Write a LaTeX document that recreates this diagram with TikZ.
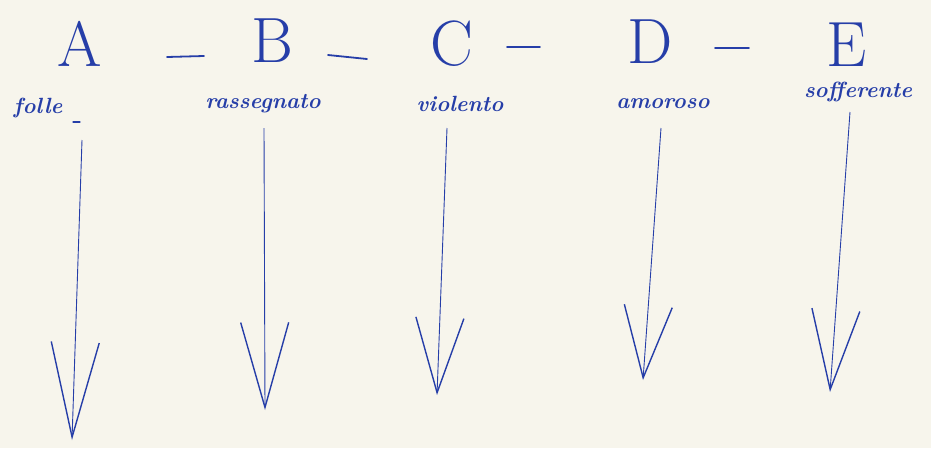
\documentclass[tikz,border=0pt]{standalone}
\usetikzlibrary{arrows.meta}
\definecolor{paper}{RGB}{247,245,236}
\definecolor{ink}{RGB}{38,62,168}
\begin{document}
\begin{tikzpicture}[x=1pt,y=-1pt,
  letter/.style={font=\fontsize{64}{64}\selectfont, text=ink, inner sep=0pt},
  word/.style={font=\bfseries\itshape\fontsize{22}{22}\selectfont, text=ink, inner sep=1pt},
  dashmark/.style={draw=ink, line width=1.8pt, line cap=round},
  longarrow/.style={draw=ink, line width=0.9pt, -{Straight Barb[length=#1pt,width=48pt,line width=1.4pt]}},
]
\fill[paper] (0,0) rectangle (931,448);
\useasboundingbox (0,0) rectangle (931,448);
% letters
\node[letter] (A) at (80,44) {A};
\node[letter] (B) at (272,41) {B};
\node[letter] (C) at (452,44) {C};
\node[letter] (D) at (650,42) {D};
\node[letter] (E) at (847,45) {E};
% dashes
\draw[dashmark] (167,57) -- (204,56);
\draw[dashmark] (328,55) -- (367,59);
\draw[dashmark] (507,47) -- (540,47);
\draw[dashmark] (715,48) -- (749,48);
% words
\node[word] (w1) at (38,108) {folle};
\node[word] (w2) at (263,104) {rassegnato};
\node[word] (w3) at (460,104) {violento};
\node[word] (w4) at (663,104) {amoroso};
\node[word] (w5) at (858,92) {sofferente};
\draw[dashmark, line width=1.3pt] (73,122) -- (80,122);
% arrow ends
\coordinate (e1) at (72,440);
\coordinate (e2) at (265,410);
\coordinate (e3) at (437,395);
\coordinate (e4) at (643,380);
\coordinate (e5) at (830,392);
\coordinate (s1) at (82,140);
\coordinate (s2) at (264,128);
\coordinate (s3) at (447,128);
\coordinate (s4) at (661,128);
\coordinate (s5) at (850,112);
\draw[longarrow=95] (s1) -- (e1);
\draw[longarrow=85] (s2) -- (e2);
\draw[longarrow=75] (s3) -- (e3);
\draw[longarrow=72] (s4) -- (e4);
\draw[longarrow=80] (s5) -- (e5);
\end{tikzpicture}
\end{document}
